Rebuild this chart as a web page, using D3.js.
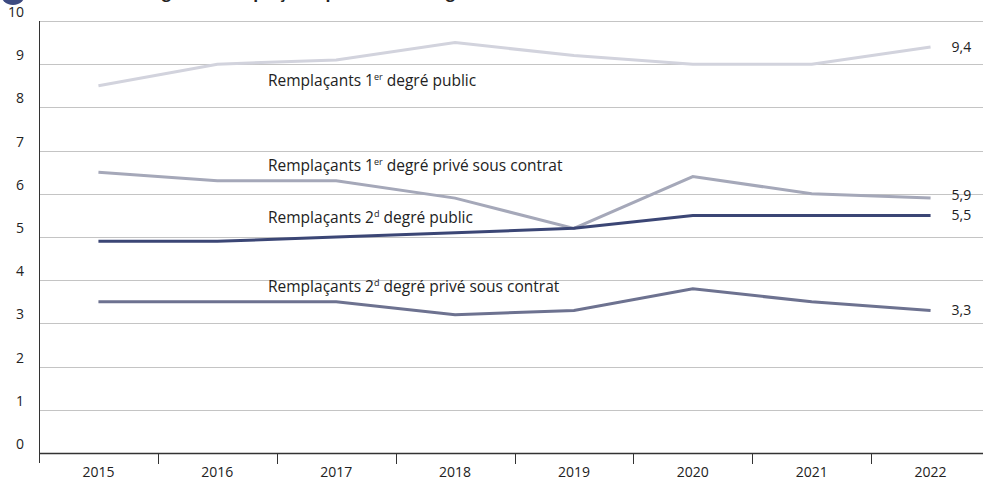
<!DOCTYPE html>
<html>
<head>
<meta charset="utf-8">
<script src="https://cdn.jsdelivr.net/npm/d3@7"></script>
<style>
  body { margin: 0; background: #fff; }
  svg { display: block; font-family: "Open Sans", "Noto Sans", sans-serif; }
</style>
</head>
<body>
<svg id="chart" width="983" height="479"></svg>
<script>
const years = [2015, 2016, 2017, 2018, 2019, 2020, 2021, 2022];
const yTicks = [0, 1, 2, 3, 4, 5, 6, 7, 8, 9, 10];

const premierPublic = [8.5, 9.0, 9.1, 9.5, 9.2, 9.0, 9.0, 9.4];
const premierPrive = [6.5, 6.3, 6.3, 5.9, 5.2, 6.4, 6.0, 5.9];
const secondPublic = [4.9, 4.9, 5.0, 5.1, 5.2, 5.5, 5.5, 5.5];
const secondPrive = [3.5, 3.5, 3.5, 3.2, 3.3, 3.8, 3.5, 3.3];

const seriesNames = [
  ["Remplaçants 1", "er", " degré public"],
  ["Remplaçants 1", "er", " degré privé sous contrat"],
  ["Remplaçants 2", "d", " degré public"],
  ["Remplaçants 2", "d", " degré privé sous contrat"]
];
const endLabels = ["9,4", "5,9", "5,5", "3,3"];

const series = [
  { values: premierPublic, color: "#d2d3dd", name: seriesNames[0], labelY: 86, endDy: 0 },
  { values: premierPrive, color: "#a5a8b9", name: seriesNames[1], labelY: 171, endDy: -3 },
  { values: secondPublic, color: "#3b4675", name: seriesNames[2], labelY: 223, endDy: 0 },
  { values: secondPrive, color: "#6d7290", name: seriesNames[3], labelY: 292, endDy: 0 }
];

const svg = d3.select("#chart");
const plotLeft = 39, plotRight = 990, plotTop = 21, plotBottom = 453;

const x = d3.scaleBand().domain(years).range([plotLeft, plotRight]);
const y = d3.scaleLinear().domain([0, 10]).range([plotBottom, plotTop]);

// title (mostly cut off at the top, as in the source)
svg.append("circle")
  .attr("cx", 13).attr("cy", -8).attr("r", 13)
  .attr("fill", "#3d4a80");
svg.append("text")
  .attr("x", 50).attr("y", -2)
  .style("font-size", "16px").style("font-weight", "bold")
  .attr("fill", "#222")
  .text("Part des enseignants remplaçants parmi les enseignants, en %");

// grid
svg.append("g")
  .selectAll("line")
  .data(yTicks.filter(d => d > 0))
  .join("line")
  .attr("x1", plotLeft).attr("x2", 983)
  .attr("y1", d => Math.round(y(d)) + 0.5).attr("y2", d => Math.round(y(d)) + 0.5)
  .attr("stroke", "#c4c4c4").attr("stroke-width", 1);

// y tick labels
svg.append("g")
  .selectAll("text")
  .data(yTicks)
  .join("text")
  .attr("x", 24)
  .attr("y", d => y(d) - 4)
  .attr("text-anchor", "end")
  .style("font-size", "14px")
  .attr("fill", "#222")
  .text(d => d);

// axes
svg.append("line")
  .attr("x1", plotLeft + 0.5).attr("x2", plotLeft + 0.5)
  .attr("y1", plotTop).attr("y2", 463)
  .attr("stroke", "#333").attr("stroke-width", 1);
svg.append("line")
  .attr("x1", plotLeft).attr("x2", 983)
  .attr("y1", plotBottom + 0.5).attr("y2", plotBottom + 0.5)
  .attr("stroke", "#333").attr("stroke-width", 1.5);

svg.append("g")
  .selectAll("line")
  .data(years.slice(1))
  .join("line")
  .attr("x1", d => Math.round(x(d)) + 0.5).attr("x2", d => Math.round(x(d)) + 0.5)
  .attr("y1", plotBottom).attr("y2", 464)
  .attr("stroke", "#333");

svg.append("g")
  .selectAll("text")
  .data(years)
  .join("text")
  .attr("x", d => x(d) + x.bandwidth() / 2)
  .attr("y", 477)
  .attr("text-anchor", "middle")
  .style("font-size", "14px")
  .attr("fill", "#222")
  .text(d => d);

// lines
const line = d3.line()
  .x((d, i) => x(years[i]) + x.bandwidth() / 2)
  .y(d => y(d));

series.forEach((s, k) => {
  svg.append("path")
    .datum(s.values)
    .attr("d", line)
    .attr("fill", "none")
    .attr("stroke", s.color)
    .attr("stroke-width", 3);

  const t = svg.append("text")
    .attr("x", 268).attr("y", s.labelY)
    .style("font-size", "15.5px")
    .attr("fill", "#222");
  t.append("tspan").text(s.name[0]);
  t.append("tspan").attr("dy", -6).style("font-size", "9px").text(s.name[1]);
  t.append("tspan").attr("dy", 6).text(s.name[2]);

  const last = s.values[s.values.length - 1];
  svg.append("text")
    .attr("x", x(years[years.length - 1]) + x.bandwidth() / 2 + 21)
    .attr("y", y(last) + 5 + s.endDy)
    .style("font-size", "14px")
    .attr("fill", "#222")
    .text(endLabels[k]);
});
</script>
</body>
</html>
